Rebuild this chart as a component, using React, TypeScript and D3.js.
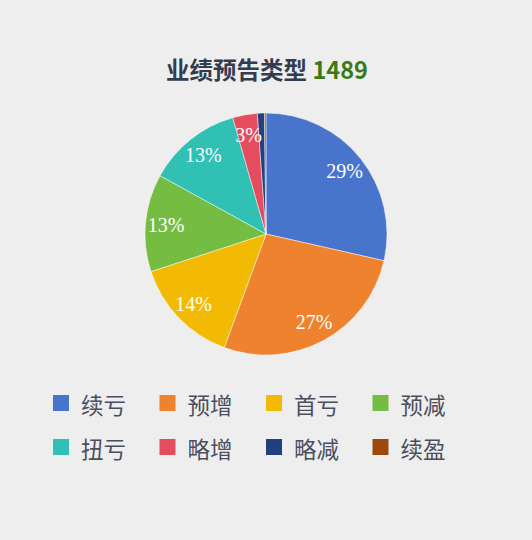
import React from 'react';
import * as d3 from 'd3';

const categories = ['续亏', '预增', '首亏', '预减', '扭亏', '略增', '略减', '续盈'];
const counts = [425, 403, 214, 194, 187, 49, 14, 3];
const colors = ['#4874CB', '#EE822F', '#F2BA02', '#75BD42', '#30C0B4', '#E54C5E', '#223F80', '#9B4A0B'];
const titleText = '业绩预告类型';
const totalText = '1489';

const W = 532;
const H = 540;

export default function App() {
  const cx = 266;
  const cy = 234;
  const radius = 121;

  const data = categories.map((name, i) => ({ name, value: counts[i], color: colors[i] }));
  const total = d3.sum(counts);

  const pie = d3.pie<{ name: string; value: number; color: string }>()
    .value(d => d.value)
    .sort(null);
  const arcs = pie(data);

  const arc = d3.arc<d3.PieArcDatum<{ name: string; value: number; color: string }>>()
    .innerRadius(0)
    .outerRadius(radius);

  const labelArc = d3.arc<d3.PieArcDatum<{ name: string; value: number; color: string }>>()
    .innerRadius(radius * 0.83)
    .outerRadius(radius * 0.83);

  // legend layout: 4 columns, 2 rows
  const colX = d3.scaleBand<number>().domain(d3.range(4)).range([53, 53 + 106.5 * 4]);
  const rowY = d3.scaleBand<number>().domain(d3.range(2)).range([395, 395 + 44 * 2]);

  return (
    <div style={{ position: 'fixed', left: 0, top: 0 }}>
      <svg width={W} height={H} style={{ display: 'block', background: '#eeeeee' }}>
        <text
          x={cx + 1}
          y={79}
          textAnchor="middle"
          fontFamily="'Noto Sans CJK SC', 'Noto Sans', sans-serif"
          fontSize={23.5}
          fontWeight="bold"
          fill="#333c4e"
        >
          {titleText}{' '}
          <tspan fill="#3a7a16">{totalText}</tspan>
        </text>

        <g transform={`translate(${cx},${cy})`}>
          {arcs.map((a, i) => (
            <path key={i} d={arc(a) || ''} fill={a.data.color} stroke="#ffffff" strokeWidth={0.6} strokeOpacity={0.8} />
          ))}
          {arcs.map((a, i) => {
            const pct = Math.round((a.data.value / total) * 100);
            if (a.endAngle - a.startAngle < 0.15) return null;
            const [lx, ly] = labelArc.centroid(a);
            return (
              <text
                key={`l${i}`}
                x={lx}
                y={ly}
                textAnchor="middle"
                dominantBaseline="central"
                fontFamily="'Liberation Serif', 'DejaVu Serif', serif"
                fontSize={20}
                fill="#ffffff"
              >
                {pct}%
              </text>
            );
          })}
        </g>

        <g>
          {data.map((d, i) => {
            const col = i % 4;
            const row = Math.floor(i / 4);
            const x = colX(col) || 0;
            const y = rowY(row) || 0;
            return (
              <g key={`lg${i}`} transform={`translate(${x},${y})`}>
                <rect x={0} y={0} width={16} height={16} fill={d.color} />
                <text
                  x={28}
                  y={9}
                  dominantBaseline="central"
                  fontFamily="'Noto Sans CJK SC', 'Noto Sans', sans-serif"
                  fontSize={22.5}
                  fill="#4a4e5e"
                >
                  {d.name}
                </text>
              </g>
            );
          })}
        </g>
      </svg>
    </div>
  );
}
